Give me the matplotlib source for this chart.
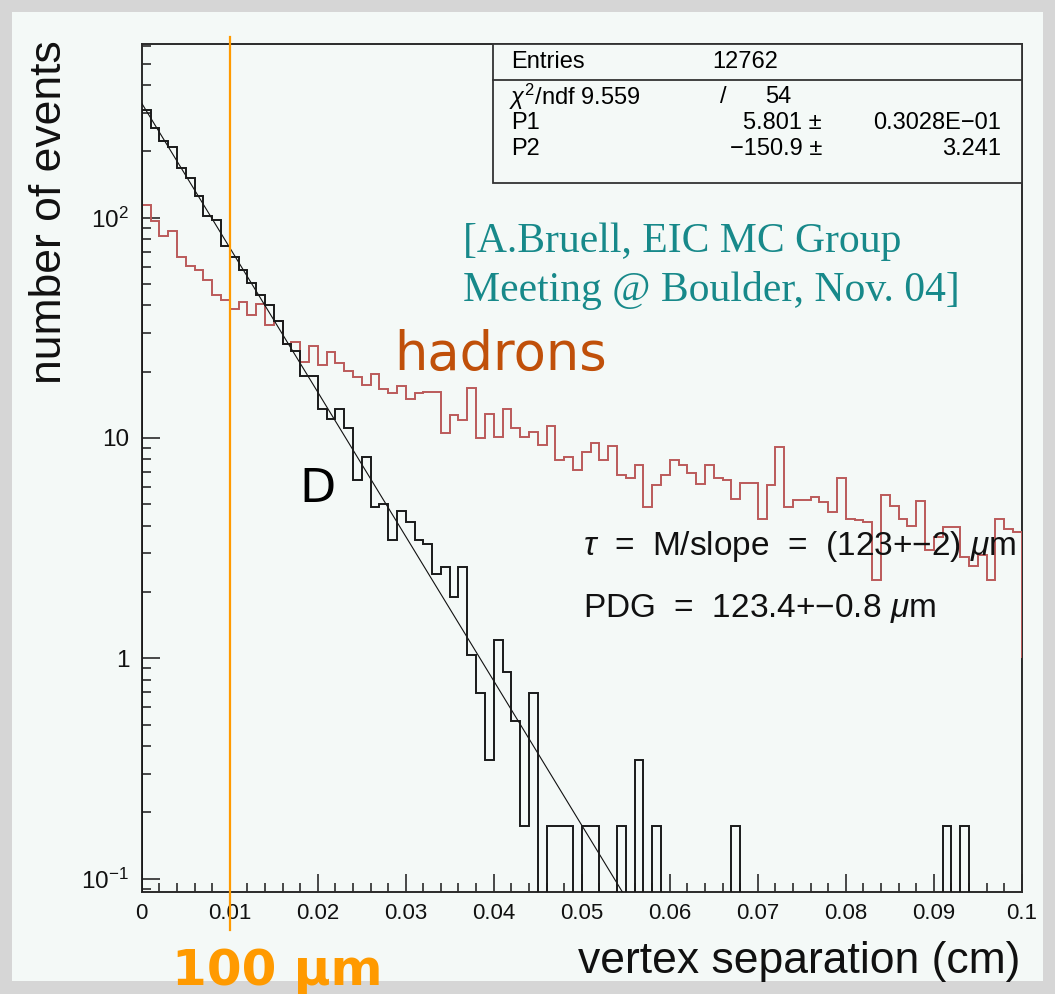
import numpy as np
import matplotlib
matplotlib.use("Agg")
import matplotlib.pyplot as plt
from matplotlib.patches import Rectangle
from matplotlib.lines import Line2D
from matplotlib.ticker import FixedLocator, FixedFormatter, MultipleLocator, LogLocator, NullFormatter
import matplotlib.transforms as mtransforms

# ---------------- data ----------------
bin_edges = np.round(np.arange(0, 101) * 0.001, 4)   # vertex separation (cm), 100 bins

d_counts = [307, 256, 222, 209, 168, 152, 125, 102, 98, 74,
            66, 58, 50.5, 44.7, 40, 33.8, 26.7, 24.8, 19.1, 19.1,
            13.6, 12.2, 13.5, 11.1, 6.44, 8.17, 4.87, 5.01, 3.46, 4.66,
            4.17, 3.46, 3.30, 2.41, 2.60, 1.90, 2.60, 1.03, 0.695, 0.344,
            1.21, 0.867, 0.517, 0.174, 0.695, 0, 0.174, 0.174, 0.174, 0,
            0.174, 0.174, 0, 0, 0.174, 0, 0.344, 0, 0.174, 0,
            0, 0, 0, 0, 0, 0, 0, 0.174, 0, 0,
            0, 0, 0, 0, 0, 0, 0, 0, 0, 0,
            0, 0, 0, 0, 0, 0, 0, 0, 0, 0,
            0, 0.174, 0, 0.174, 0, 0, 0, 0, 0, 0]

h_counts = [114.6, 97, 82.2, 86.6, 66.3, 60.1, 58.0, 52.3, 44.7, 42.4,
            38.5, 41.2, 36.1, 40.6, 32.6, 34.0, 26.8, 27.4, 22.2, 26.2,
            21.5, 24.6, 21.8, 20.2, 18.9, 17.4, 19.5, 16.7, 16.0, 17.3,
            15.1, 16.0, 16.2, 16.2, 10.5, 12.7, 12.1, 16.8, 9.97, 12.9,
            10.1, 13.5, 11.1, 10.1, 10.7, 9.29, 11.3, 7.94, 8.23, 7.16,
            8.67, 9.52, 7.94, 9.2, 6.79, 6.56, 7.54, 4.87, 6.11, 6.79,
            7.94, 7.54, 6.91, 6.2, 7.54, 6.56, 6.44, 5.26, 6.22, 6.22,
            4.31, 6.11, 9.13, 4.87, 5.23, 5.23, 5.38, 5.14, 4.62, 6.56,
            4.31, 4.24, 4.17, 2.26, 5.51, 4.91, 4.31, 3.98, 5.19, 3.10,
            3.56, 3.95, 3.95, 2.89, 2.62, 2.94, 2.26, 4.31, 3.85, 3.75]

fit_P1 = 5.801
fit_P2 = -150.9

x_ticks = [0, 0.01, 0.02, 0.03, 0.04, 0.05, 0.06, 0.07, 0.08, 0.09, 0.1]
x_ticklabels = ["0", "0.01", "0.02", "0.03", "0.04", "0.05", "0.06", "0.07", "0.08", "0.09", "0.1"]
y_ticks = [0.1, 1, 10, 100]
y_ticklabels = [r"10$^{-1}$", "1", "10", r"10$^{2}$"]

marker_x = 0.01   # 100 um

stats_rows = [("Entries", "12762"),
              (r"$\chi^{2}$/ndf 9.559", "/", "54"),
              ("P1", "5.801 \u00b1", "0.3028E\u221201"),
              ("P2", "\u2212150.9 \u00b1", "3.241")]

# ---------------- style ----------------
plt.rcParams['font.family'] = ['Liberation Sans', 'DejaVu Sans']
plt.rcParams['mathtext.fontset'] = 'custom'
plt.rcParams['mathtext.rm'] = 'Liberation Sans'
plt.rcParams['mathtext.it'] = 'Liberation Sans:italic'
plt.rcParams['mathtext.bf'] = 'Liberation Sans:bold'

W, H = 1055, 994
fig = plt.figure(figsize=(W / 100, H / 100), dpi=100)
fig.patch.set_facecolor('#d6d6d6')
bg = '#f4f9f7'

def fx(px):
    return px / W

def fy(py):
    return 1 - py / H

fig.add_artist(Rectangle((fx(12), fy(981)), fx(1043) - fx(12), fy(12) - fy(981),
                         transform=fig.transFigure, facecolor=bg, edgecolor='none', zorder=-5))

ax_l, ax_r, ax_t, ax_b = 141.7, 1021.7, 44.3, 892.3
ax = fig.add_axes([fx(ax_l), fy(ax_b), fx(ax_r) - fx(ax_l), fy(ax_t) - fy(ax_b)])
ax.set_facecolor(bg)
ax.set_yscale('log')
ax.set_xlim(0, 0.1)
ax.set_ylim(0.0867, 612)

floor = 1e-3
dc = np.asarray(d_counts, dtype=float)
hc = np.asarray(h_counts, dtype=float)

ax.stairs(hc, bin_edges, baseline=1.0, color='#bb5a5a', lw=1.4, zorder=3)
ax.stairs(np.where(dc > 0, dc, floor), bin_edges, baseline=floor, color='#1a1a1a', lw=1.4, zorder=3.2)

xf = np.linspace(0, 0.1, 400)
ax.plot(xf, np.exp(fit_P1 + fit_P2 * xf), color='#111111', lw=0.8, zorder=3.1)

# orange marker line (extends below the axis)
trans = mtransforms.blended_transform_factory(ax.transData, fig.transFigure)
fig.add_artist(Line2D([marker_x, marker_x], [fy(930), fy(37)], transform=trans,
                      color='#ff9a00', lw=1.6, zorder=6))

for s in ax.spines.values():
    s.set_linewidth(1.4)
    s.set_color('#2a2a2a')

ax.xaxis.set_major_locator(FixedLocator(x_ticks))
ax.xaxis.set_major_formatter(FixedFormatter(x_ticklabels))
ax.xaxis.set_minor_locator(MultipleLocator(0.002))
ax.yaxis.set_major_locator(FixedLocator(y_ticks))
ax.yaxis.set_major_formatter(FixedFormatter(y_ticklabels))
ax.yaxis.set_minor_locator(LogLocator(base=10, subs=np.arange(2, 10)))
ax.yaxis.set_minor_formatter(NullFormatter())
ax.tick_params(which='both', direction='in', top=False, right=False, colors='#2a2a2a',
               labelcolor='#111111', width=1.2)
ax.tick_params(which='major', length=13)
ax.tick_params(which='minor', length=6.5)
ax.tick_params(axis='x', pad=8, labelsize=16)
ax.tick_params(axis='y', pad=9, labelsize=17.5)

# axis titles
fig.text(fx(1020), fy(973), "vertex separation (cm)", ha='right', va='baseline',
         fontsize=32, color='#111111')
fig.text(fx(50), fy(40), "number of events", ha='center', va='top', rotation=90,
         fontsize=32, color='#111111')

# stats box
fig.add_artist(Rectangle((fx(493), fy(183)), fx(ax_r) - fx(493), fy(ax_t) - fy(183),
                         transform=fig.transFigure, facecolor=bg, edgecolor='#333333',
                         lw=1.3, zorder=7))
fig.add_artist(Line2D([fx(493), fx(ax_r)], [fy(80), fy(80)], transform=fig.transFigure,
                      color='#333333', lw=1.3, zorder=8))
sfs = 17
row_y = [62, 97, 123, 149]
fig.text(fx(511), fy(row_y[0]), stats_rows[0][0], ha='left', va='center', fontsize=sfs, zorder=9)
fig.text(fx(712), fy(row_y[0]), stats_rows[0][1], ha='left', va='center', fontsize=sfs, zorder=9)
fig.text(fx(509), fy(row_y[1]), stats_rows[1][0], ha='left', va='center', fontsize=sfs, zorder=9)
fig.text(fx(723), fy(row_y[1]), stats_rows[1][1], ha='center', va='center', fontsize=sfs, zorder=9)
fig.text(fx(791), fy(row_y[1]), stats_rows[1][2], ha='right', va='center', fontsize=sfs, zorder=9)
for r in (2, 3):
    fig.text(fx(511), fy(row_y[r]), stats_rows[r][0], ha='left', va='center', fontsize=sfs, zorder=9)
    fig.text(fx(822), fy(row_y[r]), stats_rows[r][1], ha='right', va='center', fontsize=sfs, zorder=9)
    fig.text(fx(1001), fy(row_y[r]), stats_rows[r][2], ha='right', va='center', fontsize=sfs, zorder=9)

# annotations
fig.text(fx(463), fy(252), "[A.Bruell, EIC MC Group", ha='left', va='baseline',
         fontsize=30, color='#17898a', family='Liberation Serif')
fig.text(fx(463), fy(301), "Meeting @ Boulder, Nov. 04]", ha='left', va='baseline',
         fontsize=30, color='#17898a', family='Liberation Serif')
fig.text(fx(394), fy(370), "hadrons", ha='left', va='baseline', fontsize=38,
         color='#c0500a', family='DejaVu Sans')
fig.text(fx(299), fy(502), "D", ha='left', va='baseline', fontsize=34,
         color='#000000', family='DejaVu Sans')
fig.text(fx(583), fy(555), r"$\tau$  =  M/slope  =  (123+$-$2) $\mu$m", ha='left', va='baseline',
         fontsize=24, color='#111111', zorder=2)
fig.text(fx(583), fy(617), r"PDG  =  123.4+$-$0.8 $\mu$m", ha='left', va='baseline',
         fontsize=24, color='#111111')
fig.text(fx(172), fy(985), "100 \u03bcm", ha='left', va='baseline', fontsize=36,
         fontweight='bold', color='#ff9a00', family='DejaVu Sans')

fig.savefig("out.png", dpi=100, facecolor=fig.get_facecolor())
